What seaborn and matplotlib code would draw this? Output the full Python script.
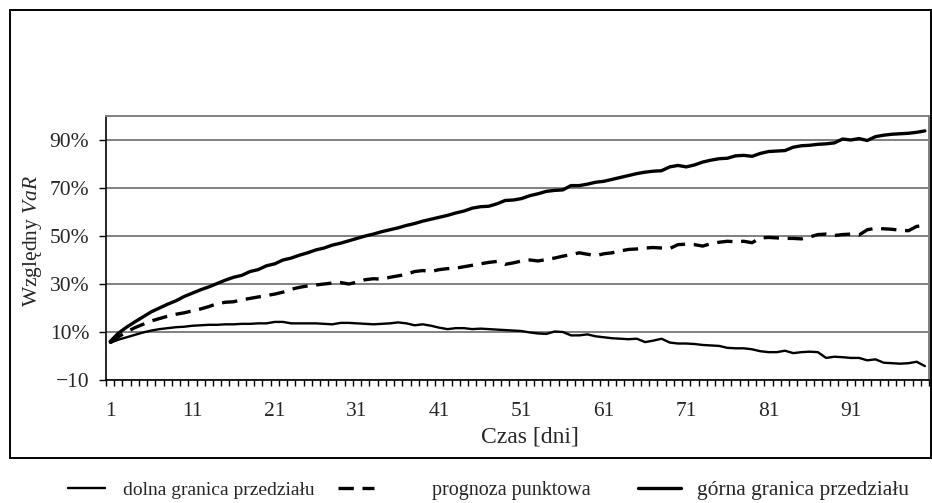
import matplotlib
matplotlib.use("Agg")
import matplotlib.pyplot as plt
import seaborn as sns
from matplotlib.patches import Rectangle
from matplotlib.ticker import FixedLocator

# ---------------- data ----------------
days = list(range(1, 101))

dolna = [5.5, 6.8, 7.8, 8.8, 9.8, 10.6, 11.2, 11.6, 12.0, 12.2,
         12.6, 12.8, 13.0, 13.0, 13.2, 13.2, 13.4, 13.4, 13.6, 13.6,
         14.2, 14.2, 13.6, 13.6, 13.6, 13.6, 13.4, 13.2, 13.8, 13.8,
         13.6, 13.4, 13.2, 13.4, 13.6, 14.0, 13.6, 12.8, 13.2, 12.6,
         11.8, 11.2, 11.6, 11.6, 11.2, 11.4, 11.2, 11.0, 10.8, 10.6,
         10.4, 9.8, 9.4, 9.2, 10.2, 10.0, 8.6, 8.6, 9.0, 8.2,
         7.8, 7.4, 7.2, 7.0, 7.2, 5.8, 6.4, 7.2, 5.6, 5.2,
         5.2, 5.0, 4.6, 4.4, 4.2, 3.4, 3.2, 3.2, 2.8, 2.0,
         1.6, 1.6, 2.2, 1.2, 1.6, 1.8, 1.6, -0.8, -0.3, -0.5,
         -0.8, -0.8, -1.8, -1.4, -2.8, -3.0, -3.2, -3.0, -2.4, -4.2]

prognoza = [5.5, 8.0, 10.0, 11.8, 13.2, 14.6, 15.6, 16.6, 17.4, 18.0,
            18.8, 19.6, 20.6, 21.8, 22.4, 22.6, 23.4, 24.0, 24.6, 25.2,
            25.8, 26.6, 27.8, 28.6, 29.2, 29.6, 30.0, 30.4, 30.6, 30.0,
            30.8, 31.8, 32.2, 32.0, 32.8, 33.4, 34.0, 35.2, 35.6, 35.2,
            36.0, 36.4, 36.6, 37.2, 37.8, 38.4, 39.0, 39.4, 38.2, 38.8,
            39.6, 40.0, 39.6, 40.2, 40.8, 41.6, 42.2, 43.0, 42.4, 41.8,
            42.6, 43.0, 43.8, 44.4, 44.6, 45.0, 45.2, 45.0, 44.8, 46.4,
            46.6, 46.4, 45.8, 46.8, 47.4, 47.8, 47.6, 47.8, 47.2, 49.2,
            49.4, 49.2, 49.0, 49.0, 48.8, 49.6, 50.6, 50.8, 50.2, 50.6,
            50.8, 50.4, 52.6, 53.2, 53.0, 52.8, 52.4, 52.2, 54.0, 54.4]

gorna = [6.0, 9.5, 12.0, 14.2, 16.3, 18.4, 20.0, 21.6, 23.0, 24.8,
         26.2, 27.6, 28.8, 30.2, 31.6, 32.8, 33.6, 35.2, 36.0, 37.6,
         38.4, 40.0, 40.8, 42.0, 43.0, 44.2, 45.0, 46.2, 47.0, 48.0,
         49.0, 50.0, 50.8, 51.8, 52.6, 53.4, 54.4, 55.2, 56.2, 57.0,
         57.8, 58.6, 59.6, 60.4, 61.6, 62.2, 62.4, 63.4, 64.8, 65.0,
         65.6, 66.8, 67.6, 68.6, 69.0, 69.2, 71.0, 71.0, 71.6, 72.4,
         72.8, 73.6, 74.4, 75.2, 76.0, 76.6, 77.0, 77.2, 78.8, 79.4,
         78.8, 79.6, 80.8, 81.6, 82.2, 82.4, 83.4, 83.6, 83.2, 84.4,
         85.2, 85.4, 85.6, 87.0, 87.6, 87.8, 88.2, 88.4, 88.8, 90.4,
         90.0, 90.6, 89.8, 91.4, 92.0, 92.4, 92.6, 92.8, 93.2, 93.8]

series_names = ["dolna granica przedziału", "prognoza punktowa",
                "górna granica przedziału"]
y_ticks = [-10, 10, 30, 50, 70, 90]
y_tick_labels = ["\u221210", "10%", "30%", "50%", "70%", "90%"]
x_ticks = [1, 11, 21, 31, 41, 51, 61, 71, 81, 91]
x_tick_labels = [str(v) for v in x_ticks]

# ---------------- style ----------------
sns.set_style("white")
plt.rcParams["font.family"] = ["Liberation Serif", "DejaVu Serif"]
plt.rcParams["mathtext.fontset"] = "custom"
plt.rcParams["mathtext.rm"] = "Liberation Serif"
plt.rcParams["mathtext.it"] = "Liberation Serif:italic"

W, H = 932, 503
fig = plt.figure(figsize=(W / 100, H / 100), dpi=100)
ax = fig.add_axes([106 / W, 1 - 380 / H, (929 - 106) / W, (380 - 116) / H])

sns.lineplot(x=days, y=dolna, ax=ax, color="black", linewidth=1.7,
             label=series_names[0], legend=False)
sns.lineplot(x=days, y=prognoza, ax=ax, color="black", linewidth=2.4,
             linestyle=(0, (4.6, 2.6)), label=series_names[1], legend=False)
sns.lineplot(x=days, y=gorna, ax=ax, color="black", linewidth=2.4,
             label=series_names[2], legend=False)
lines = ax.get_lines()[-3:]

ax.set_xlim(0.5, 100.5)
ax.set_ylim(-10, 100)

ax.set_yticks(y_ticks)
ax.set_yticklabels(y_tick_labels, fontsize=15.5)
ax.set_xticks(x_ticks)
ax.set_xticklabels(x_tick_labels, fontsize=15.5)
ax.xaxis.set_minor_locator(FixedLocator([k + 0.5 for k in range(0, 101)]))

ax.tick_params(axis="x", which="major", length=0, pad=16)
ax.tick_params(axis="x", which="minor", direction="out", length=4,
               width=1.0, color="black", bottom=True)
ax.tick_params(axis="y", which="major", direction="out", length=5,
               width=1.0, color="black", pad=7, left=True)

ax.grid(axis="y", color="#808080", linewidth=1.4)
ax.grid(axis="x", visible=False)
ax.set_axisbelow(True)

for s in ["top", "right"]:
    ax.spines[s].set_color("#808080")
    ax.spines[s].set_linewidth(1.4)
for s in ["left", "bottom"]:
    ax.spines[s].set_color("black")
    ax.spines[s].set_linewidth(1.2)

ax.set_xlabel("Czas [dni]", fontsize=17)
ax.xaxis.set_label_coords((530 - 106) / 823, (380 - 437) / 264)
ax.set_ylabel("Względny $\\it{VaR}$", fontsize=15.5)
ax.yaxis.set_label_coords((33 - 106) / 823, (380 - 241) / 264)
ax.yaxis.label.set_va("center")
ax.xaxis.label.set_va("center")

# outer chart frame
fig.add_artist(Rectangle((10 / W, 1 - 458 / H), (931 - 10) / W, (458 - 10) / H,
                         transform=fig.transFigure, fill=False,
                         edgecolor="black", linewidth=1.4))

# legend below frame
ly = 1 - 490 / H
items = [  # handle start x, font size, handle length, text pad
    (68, 14.0, 1.9, 0.95),
    (338, 14.5, 1.8, 2.85),
    (638, 15.5, 2.0, 0.75),
]
for ln, name, (hx, fs, hl, tp) in zip(lines, series_names, items):
    fig.legend([ln], [name], loc="center left", bbox_to_anchor=(hx / W, ly),
               frameon=False, fontsize=fs, handlelength=hl,
               handletextpad=tp, borderpad=0, borderaxespad=0)

fig.savefig("out.png", dpi=100)
